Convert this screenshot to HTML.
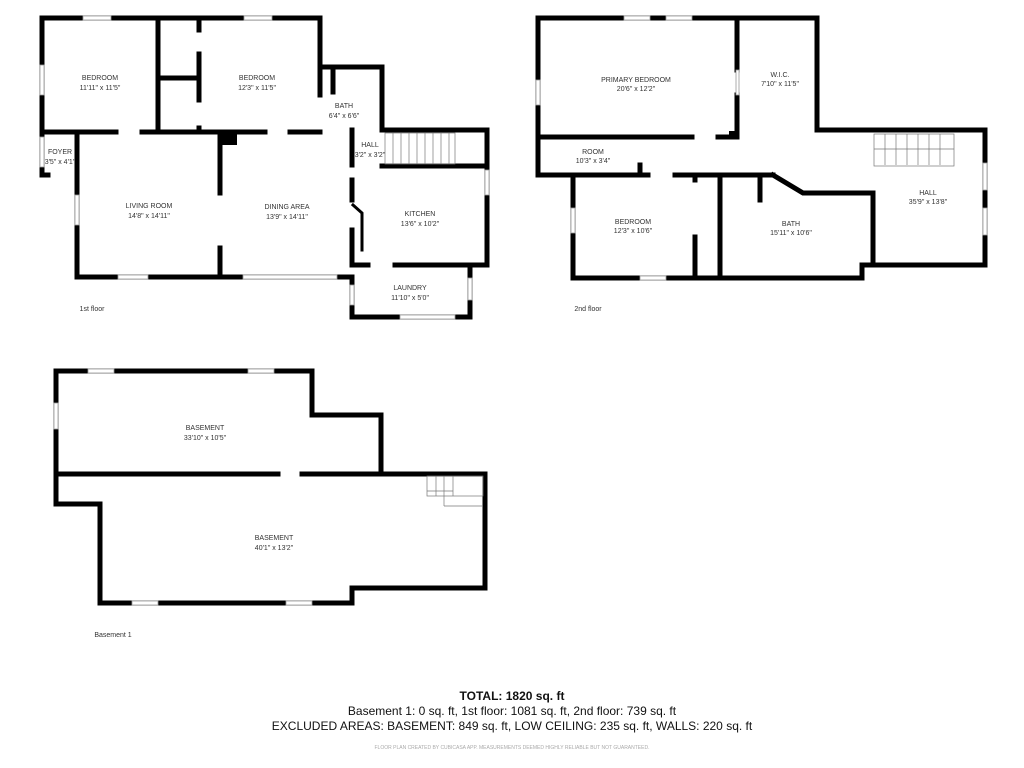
<!DOCTYPE html>
<html><head><meta charset="utf-8"><style>
body{margin:0;background:#fff;width:1024px;height:768px;overflow:hidden}
svg{display:block}
.w{fill:none;stroke:#000;stroke-width:5;stroke-linejoin:miter;stroke-linecap:square}
.t{font-family:"Liberation Sans",sans-serif;font-size:7px;fill:#333;text-anchor:middle}
.win{fill:#fff;stroke:#999;stroke-width:0.8}
.st{fill:none;stroke:#777;stroke-width:0.7}
</style></head><body>
<svg width="1024" height="768" viewBox="0 0 1024 768">
<!-- 1st floor -->
<g class="w">
<polyline points="42,175 42,18 320,18 320,67 382,67 382,130 487,130 487,265 470,265 470,317 352,317 352,277 77,277 77,132"/>
<line x1="42" y1="175" x2="48" y2="175"/>
<line x1="42" y1="132" x2="116" y2="132"/><line x1="142" y1="132" x2="265" y2="132"/><line x1="290" y1="132" x2="320" y2="132"/>
<line x1="158" y1="18" x2="158" y2="132"/>
<line x1="199" y1="18" x2="199" y2="30"/><line x1="199" y1="54" x2="199" y2="100"/><line x1="199" y1="128" x2="199" y2="132"/>
<line x1="158" y1="78" x2="199" y2="78"/>
<line x1="220" y1="132" x2="220" y2="193"/><line x1="220" y1="248" x2="220" y2="277"/>
<line x1="320" y1="67" x2="320" y2="95"/><line x1="333" y1="67" x2="333" y2="92"/>
<line x1="352" y1="130" x2="352" y2="165"/><line x1="352" y1="180" x2="352" y2="200"/><line x1="352" y1="230" x2="352" y2="265"/>
<line x1="382" y1="166" x2="487" y2="166"/><line x1="352" y1="265" x2="368" y2="265"/><line x1="395" y1="265" x2="470" y2="265"/>
<polyline points="353,205 362,213 362,250" style="stroke-width:3"/>
</g>
<rect x="220" y="132" width="17" height="13" fill="#000"/>
<g class="win">
<rect x="83" y="16" width="28" height="4"/><rect x="244" y="16" width="28" height="4"/>
<rect x="40" y="65" width="4" height="30"/><rect x="40" y="137" width="4" height="30"/>
<rect x="75" y="195" width="4" height="30"/><rect x="118" y="275" width="30" height="4"/>
<rect x="243" y="275" width="94" height="4"/><rect x="485" y="170" width="4" height="25"/>
<rect x="350" y="285" width="4" height="20"/><rect x="468" y="278" width="4" height="22"/><rect x="400" y="315" width="55" height="4"/>
</g>
<g class="st"><rect x="385" y="133" width="70" height="31"/><line x1="393" y1="133" x2="393" y2="164"/><line x1="401" y1="133" x2="401" y2="164"/><line x1="409" y1="133" x2="409" y2="164"/><line x1="417" y1="133" x2="417" y2="164"/><line x1="425" y1="133" x2="425" y2="164"/><line x1="433" y1="133" x2="433" y2="164"/><line x1="441" y1="133" x2="441" y2="164"/><line x1="449" y1="133" x2="449" y2="164"/></g>
<g class="t">
<text x="100" y="80">BEDROOM</text><text x="100" y="90">11'11" x 11'5"</text>
<text x="257" y="80">BEDROOM</text><text x="257" y="90">12'3" x 11'5"</text>
<text x="344" y="108">BATH</text><text x="344" y="118">6'4" x 6'6"</text>
<text x="60" y="154">FOYER</text><text x="60" y="164">3'5" x 4'1"</text>
<text x="370" y="147">HALL</text><text x="370" y="157">3'2" x 3'2"</text>
<text x="149" y="208">LIVING ROOM</text><text x="149" y="218">14'8" x 14'11"</text>
<text x="287" y="209">DINING AREA</text><text x="287" y="219">13'9" x 14'11"</text>
<text x="420" y="216">KITCHEN</text><text x="420" y="226">13'6" x 10'2"</text>
<text x="410" y="290">LAUNDRY</text><text x="410" y="300">11'10" x 5'0"</text>
<text x="92" y="311">1st floor</text>
</g>
<!-- 2nd floor -->
<g class="w">
<polyline points="538,175 538,18 817,18 817,130 985,130 985,265 873,265 873,193 803,193 773,175"/>
<polyline points="862,265 862,278 573,278 573,175"/>
<line x1="538" y1="175" x2="648" y2="175"/>
<line x1="862" y1="265" x2="873" y2="265"/>
<line x1="737" y1="18" x2="737" y2="70"/><line x1="737" y1="95" x2="737" y2="137"/>
<line x1="538" y1="137" x2="692" y2="137"/><line x1="718" y1="137" x2="737" y2="137"/>
<rect x="729" y="131" width="9" height="8" fill="#000" stroke="none"/>
<line x1="640" y1="165" x2="640" y2="175"/>
<line x1="675" y1="175" x2="773" y2="175"/>
<line x1="695" y1="175" x2="695" y2="180"/><line x1="695" y1="237" x2="695" y2="278"/>
<line x1="720" y1="175" x2="720" y2="278"/>
<line x1="760" y1="175" x2="760" y2="200"/>
</g>
<g class="win">
<rect x="624" y="16" width="26" height="4"/><rect x="666" y="16" width="26" height="4"/>
<rect x="536" y="80" width="4" height="25"/><rect x="571" y="208" width="4" height="25"/>
<rect x="640" y="276" width="26" height="4"/><rect x="983" y="163" width="4" height="27"/><rect x="983" y="208" width="4" height="27"/>
<rect x="736" y="70" width="3" height="25"/>
</g>
<g class="st"><rect x="874" y="134" width="80" height="32"/><line x1="885" y1="134" x2="885" y2="165"/><line x1="896" y1="134" x2="896" y2="165"/><line x1="907" y1="134" x2="907" y2="165"/><line x1="918" y1="134" x2="918" y2="165"/><line x1="929" y1="134" x2="929" y2="165"/><line x1="940" y1="134" x2="940" y2="165"/><line x1="874" y1="149" x2="954" y2="149"/></g>
<g class="t">
<text x="636" y="82">PRIMARY BEDROOM</text><text x="636" y="91">20'6" x 12'2"</text>
<text x="780" y="77">W.I.C.</text><text x="780" y="86">7'10" x 11'5"</text>
<text x="593" y="154">ROOM</text><text x="593" y="163">10'3" x 3'4"</text>
<text x="633" y="224">BEDROOM</text><text x="633" y="233">12'3" x 10'6"</text>
<text x="791" y="226">BATH</text><text x="791" y="235">15'11" x 10'6"</text>
<text x="928" y="195">HALL</text><text x="928" y="204">35'9" x 13'8"</text>
<text x="588" y="311">2nd floor</text>
</g>
<!-- Basement -->
<g class="w">
<polygon points="56,371 312,371 312,415 381,415 381,474 485,474 485,588 352,588 352,603 100,603 100,504 56,504"/>
<line x1="56" y1="474" x2="278" y2="474"/><line x1="302" y1="474" x2="381" y2="474"/>
</g>
<g class="win">
<rect x="88" y="369" width="26" height="4"/><rect x="248" y="369" width="26" height="4"/>
<rect x="54" y="403" width="4" height="26"/><rect x="132" y="601" width="26" height="4"/><rect x="286" y="601" width="26" height="4"/>
</g>
<g class="st"><rect x="427" y="476" width="56" height="20"/><line x1="444" y1="476" x2="444" y2="506"/><line x1="444" y1="506" x2="483" y2="506"/><line x1="436" y1="476" x2="436" y2="496"/><line x1="453" y1="476" x2="453" y2="496"/><line x1="427" y1="491" x2="453" y2="491"/></g>
<g class="t">
<text x="205" y="430">BASEMENT</text><text x="205" y="440">33'10" x 10'5"</text>
<text x="274" y="540">BASEMENT</text><text x="274" y="550">40'1" x 13'2"</text>
<text x="113" y="637">Basement 1</text>
</g>
<g font-family="Liberation Sans,sans-serif" text-anchor="middle" fill="#111">
<text x="512" y="700" font-size="12" font-weight="bold">TOTAL: 1820 sq. ft</text>
<text x="512" y="715" font-size="12">Basement 1: 0 sq. ft, 1st floor: 1081 sq. ft, 2nd floor: 739 sq. ft</text>
<text x="512" y="730" font-size="12">EXCLUDED AREAS: BASEMENT: 849 sq. ft, LOW CEILING: 235 sq. ft, WALLS: 220 sq. ft</text>
<text x="512" y="749" font-size="5" fill="#aaa">FLOOR PLAN CREATED BY CUBICASA APP. MEASUREMENTS DEEMED HIGHLY RELIABLE BUT NOT GUARANTEED.</text>
</g>
</svg>
</body></html>
